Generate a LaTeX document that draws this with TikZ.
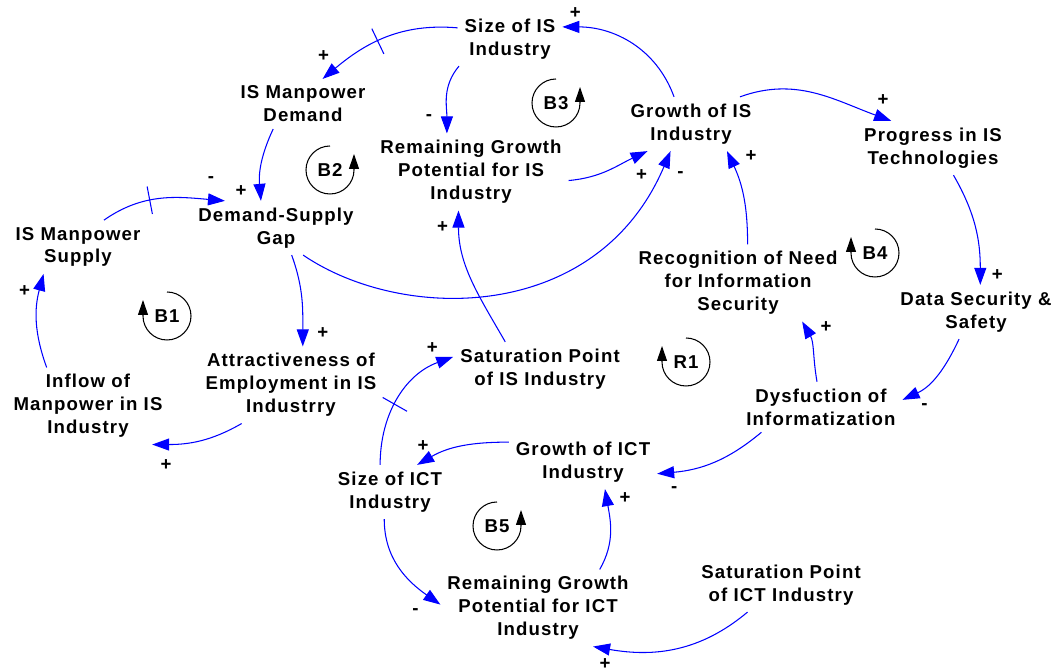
\documentclass[tikz,border=0pt]{standalone}
\usepackage{fontspec}
\setmainfont{Liberation Sans}[LetterSpace=6]
\usepackage{tikz}
\usetikzlibrary{arrows.meta,decorations.markings}

\begin{document}
\begin{tikzpicture}
          [x=0.02cm,y=0.02cm,
          factor/.style={align=center,inner sep=2pt,outer sep=2pt,font=\fontsize{10.6}{13}\selectfont\bfseries},
          sgn/.style={black,inner sep=0pt,font=\fontsize{10.6}{13}\selectfont\bfseries},
          cause/.style={-{Triangle[length=0.34cm,width=0.24cm]},blue,line width=0.6pt},
          delaymark/.style={postaction={decorate,decoration={markings,
             mark=at position #1 with {\draw[-,blue,line width=0.6pt] (0,-14) -- (0,14);}}}},
          loopar/.style={-{Triangle[length=0.3cm,width=0.2cm]},black,line width=0.6pt},
          looplbl/.style={inner sep=0pt,font=\fontsize{10.6}{13}\selectfont\bfseries}]

            \useasboundingbox (0,0) rectangle (1059,672);

            % variables
            \node (SizeIS) [factor] at (510,633) {Size of IS\\Industry};
            \node (ISMD) [factor] at (303,568) {IS Manpower\\Demand};
            \node (DSG) [factor] at (276,444) {Demand-Supply\\Gap};
            \node (ISMS) [factor] at (78,425) {IS Manpower\\Supply};
            \node (RGPIS) [factor] at (471,500) {Remaining Growth\\Potential for IS\\Industry};
            \node (GrowthIS) [factor] at (691,548) {Growth of IS\\Industry};
            \node (Progress) [factor] at (933,524) {Progress in IS\\Technologies};
            \node (DataSec) [factor] at (976,360) {Data Security \&\\Safety};
            \node (Recog) [factor] at (738,389) {Recognition of Need\\for Information\\Security};
            \node (Dysf) [factor] at (821,265) {Dysfuction of\\Informatization};
            \node (SatIS) [factor] at (540,303) {Saturation Point\\of IS Industry};
            \node (Attr) [factor] at (291,287) {Attractiveness of\\Employment in IS\\Industrry};
            \node (Inflow) [factor] at (88,266) {Inflow of\\Manpower in IS\\Industry};
            \node (GrowthICT) [factor] at (583,210) {Growth of ICT\\Industry};
            \node (SizeICT) [factor] at (390,180) {Size of ICT\\Industry};
            \node (RGPICT) [factor] at (538,64) {Remaining Growth\\Potential for ICT\\Industry};
            \node (SatICT) [factor] at (781,87) {Saturation Point\\of ICT Industry};

            % loops
            \node (B1) [looplbl] at (167,356) {B1};
            \node (B2) [looplbl] at (330,502) {B2};
            \node (B3) [looplbl] at (556,569) {B3};
            \node (B4) [looplbl] at (875,419) {B4};
            \node (R1) [looplbl] at (686,310) {R1};
            \node (B5) [looplbl] at (497,146) {B5};
            \draw [loopar] ([shift={(90:24)}]B1.center) arc [start angle=90,end angle=-180,radius=24] -- ++(0,16);
            \draw [loopar] ([shift={(90:24)}]B4.center) arc [start angle=90,end angle=-180,radius=24] -- ++(0,16);
            \draw [loopar] ([shift={(90:24)}]R1.center) arc [start angle=90,end angle=-180,radius=24] -- ++(0,16);
            \draw [loopar] ([shift={(90:24)}]B2.center) arc [start angle=90,end angle=360,radius=24] -- ++(0,16);
            \draw [loopar] ([shift={(90:24)}]B3.center) arc [start angle=90,end angle=360,radius=24] -- ++(0,16);
            \draw [loopar] ([shift={(90:24)}]B5.center) arc [start angle=90,end angle=360,radius=24] -- ++(0,16);

            % links
            \draw [cause,delaymark=0.55] (SizeIS.168) to[out=175,in=40] node [sgn,pos=1,shift={(1,23)}] (p1) {+} (ISMD.52);
            \draw [cause] (ISMD.-140) to[out=-115,in=95] node [sgn,pos=1,shift={(-20,10)}] (p2) {+} (DSG.119);
            \draw [cause,delaymark=0.4] (ISMS.46) to[out=35,in=175] node [sgn,pos=1,shift={(-14,21)}] (p3) {-} (DSG.152);
            \draw [cause] (SizeIS.208) to[out=-130,in=90] node [sgn,pos=1,shift={(-18,16)}] (p4) {-} (RGPIS.122);
            \draw [cause] (RGPIS.-5) to[out=5,in=-155] node [sgn,pos=1,shift={(-6,-24)}] (p5) {+} (GrowthIS.212);
            \draw [cause] (DSG.-45) .. controls +(100,-68) and +(-73,-172) .. (GrowthIS.-127) node [sgn,pos=1,shift={(10,-23)}] (p6) {-};
            \draw [cause] (GrowthIS.122) to[out=110,in=0] node [sgn,pos=1,shift={(13,14)}] (p7) {+} (SizeIS.13);
            \draw [cause] (GrowthIS.29) to[out=20,in=160] node [sgn,pos=1,shift={(-8,21)}] (p8) {+} (Progress.147);
            \draw [cause] (Progress.-53) to[out=-60,in=90] node [sgn,pos=1,shift={(17,10)}] (p9) {+} (DataSec.81);
            \draw [cause] (DataSec.-122) to[out=-115,in=25] node [sgn,pos=1,shift={(22,-7)}] (p10) {-} (Dysf.5);
            \draw [cause] (Dysf.99) to[out=100,in=-60] node [sgn,pos=1,shift={(24,-6)}] (p11) {+} (Recog.-31);
            \draw [cause] (Recog.76) to[out=90,in=-65] node [sgn,pos=1,shift={(24,-5)}] (p12) {+} (GrowthIS.-37);
            \draw [cause] (Dysf.-157) to[out=-140,in=5] node [sgn,pos=1,shift={(17,-16)}] (p13) {-} (GrowthICT.-9);
            \draw [cause] (GrowthICT.165) to[out=180,in=30] node [sgn,pos=1,shift={(6,19)}] (p14) {+} (SizeICT.45);
            \draw [cause,delaymark=0.45] (SizeICT.110) to[out=90,in=-160] node [sgn,pos=1,shift={(-21,9)}] (p15) {+} (SatIS.172);
            \draw [cause] (SizeICT.-102) to[out=-90,in=145] node [sgn,pos=1,shift={(-25,-7)}] (p16) {-} (RGPICT.178);
            \draw [cause] (RGPICT.32) to[out=60,in=-80] node [sgn,pos=1,shift={(20,-9)}] (p17) {+} (GrowthICT.-51);
            \draw [cause] (SatICT.-141) to[out=-140,in=-10] node [sgn,pos=1,shift={(12,-17)}] (p18) {+} (RGPICT.-35);
            \draw [cause] (DSG.-60) to[out=-70,in=90] node [sgn,pos=1,shift={(20,13)}] (p19) {+} (Attr.73);
            \draw [cause] (Attr.-142) to[out=-150,in=0] node [sgn,pos=1,shift={(14,-20)}] (p20) {+} (Inflow.-31);
            \draw [cause] (Inflow.137) to[out=110,in=-105] node [sgn,pos=1,shift={(-19,-17)}] (p21) {+} (ISMS.-142);
            \draw [cause] (SatIS.142) to[out=120,in=-90] node [sgn,pos=1,shift={(-16,-17)}] (p22) {+} (RGPIS.-108);

        \end{tikzpicture}
\end{document}
